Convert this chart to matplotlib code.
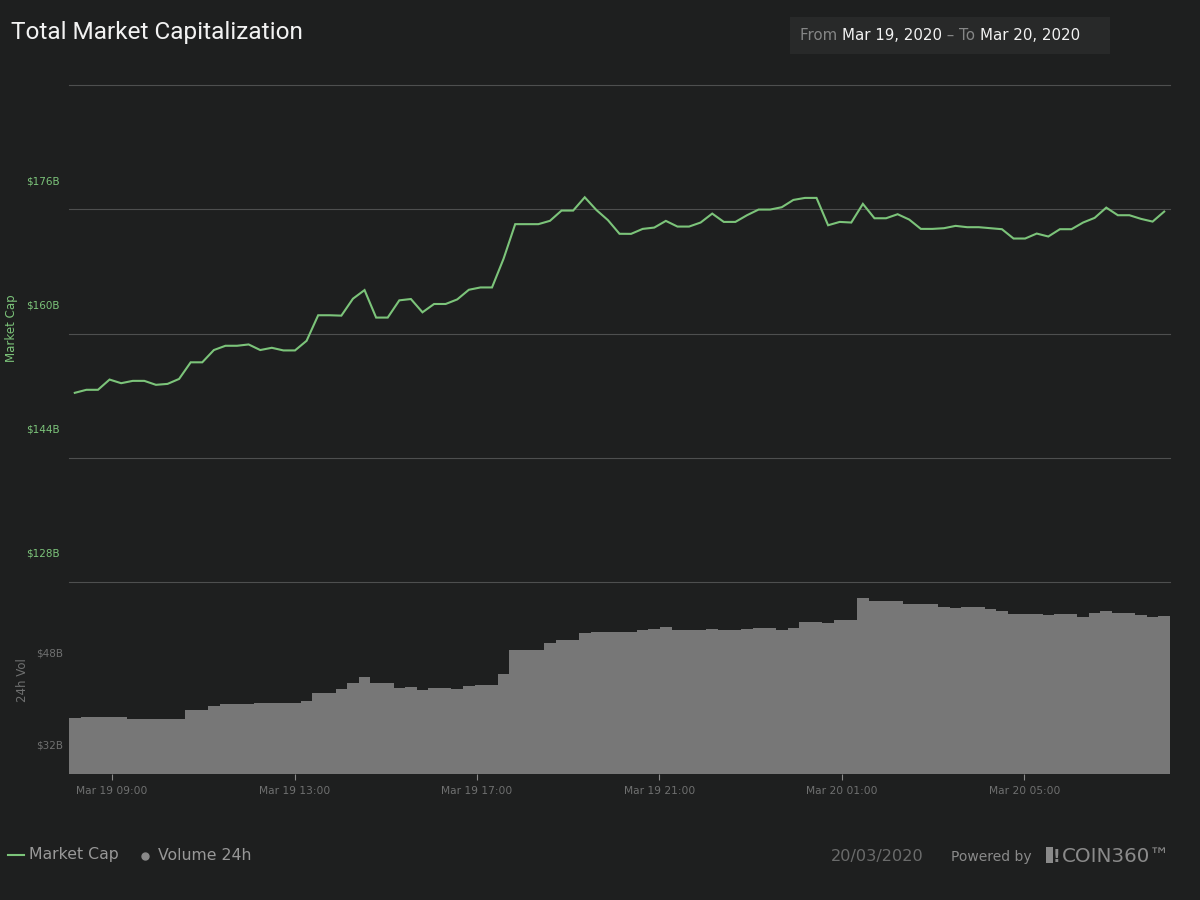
import matplotlib
matplotlib.use("Agg")
import matplotlib.dates as mdates
import matplotlib.pyplot as plt
import matplotlib.transforms as mtransforms
from matplotlib.lines import Line2D
from matplotlib.patches import Rectangle
from matplotlib.text import Annotation
import pandas as pd

# ==================== DATA ====================
# 95 snapshots, Mar 19 08:11 -> Mar 20 08:04
times = pd.date_range(start="2020-03-19 08:11", end="2020-03-20 08:04", periods=95)

# total market cap, $B
market_cap = [
    152.36, 152.75, 152.75, 154.07, 153.60, 153.90, 153.90, 153.39, 153.51, 154.15,
    156.29, 156.29, 157.87, 158.42, 158.42, 158.59, 157.87, 158.16, 157.82, 157.82,
    159.06, 162.35, 162.35, 162.30, 164.48, 165.59, 162.05, 162.05, 164.27, 164.44,
    162.73, 163.80, 163.80, 164.39, 165.63, 165.93, 165.93, 169.64, 174.08, 174.08,
    174.08, 174.51, 175.83, 175.83, 177.54, 175.91, 174.60, 172.84, 172.83, 173.47,
    173.64, 174.50, 173.77, 173.77, 174.29, 175.44, 174.37, 174.37, 175.23, 175.96,
    175.96, 176.26, 177.20, 177.46, 177.46, 173.94, 174.37, 174.29, 176.69, 174.84,
    174.84, 175.36, 174.67, 173.47, 173.47, 173.56, 173.86, 173.69, 173.69, 173.56,
    173.43, 172.23, 172.23, 172.87, 172.49, 173.43, 173.43, 174.29, 174.89, 176.21,
    175.23, 175.23, 174.76, 174.41, 175.70,
]

# 24h volume, $B
volume_24h = [
    41.74, 41.90, 41.90, 41.90, 41.90, 41.57, 41.57, 41.57, 41.57, 41.57,
    43.13, 43.13, 43.83, 44.17, 44.17, 44.17, 44.35, 44.35, 44.35, 44.35,
    44.70, 46.10, 46.10, 46.80, 47.80, 48.90, 47.80, 47.80, 46.96, 47.13,
    46.66, 46.96, 46.96, 46.80, 47.30, 47.48, 47.48, 49.40, 53.57, 53.57,
    53.57, 54.80, 55.30, 55.30, 56.50, 56.70, 56.70, 56.70, 56.70, 57.04,
    57.20, 57.57, 57.04, 57.04, 57.04, 57.20, 57.04, 57.04, 57.20, 57.40,
    57.40, 57.04, 57.40, 58.43, 58.43, 58.26, 58.78, 58.78, 62.60, 62.09,
    62.09, 62.09, 61.57, 61.57, 61.57, 61.04, 60.87, 61.04, 61.04, 60.70,
    60.35, 59.83, 59.83, 59.83, 59.65, 59.83, 59.83, 59.30, 60.00, 60.35,
    60.00, 60.00, 59.65, 59.30, 59.48,
]

cap_ticks = [128, 144, 160, 176, 192]
cap_tick_labels = ["$128B", "$144B", "$160B", "$176B", ""]
vol_ticks = [32, 48]
vol_tick_labels = ["$32B", "$48B"]

# ==================== STYLE ===================
bg = "#1e1f1f"
green = "#7cc47a"
grid_col = "#4e4f4f"
bar_col = "#777777"
grey_txt = "#6f7070"

fig = plt.figure(figsize=(12, 9), dpi=100)
fig.patch.set_facecolor(bg)

W, H = 1200, 900
left, right = 69 / W, 1170 / W
ax = fig.add_axes([left, 1 - 582 / H, right - left, (582 - 85) / H])
ax_vol = fig.add_axes([left, 1 - 774 / H, right - left, (774 - 582) / H], sharex=ax)

step = times[1] - times[0]
xlim = (times[0] - step / 2, times[-1] + step / 2)

# labels sit ~29px above their grid lines in the original
label_shift = mtransforms.ScaledTranslation(0, 29 / 100, fig.dpi_scale_trans)

# ==================== MARKET CAP ==============
ax.set_facecolor("none")
ax.plot(times, market_cap, color=green, lw=1.5, solid_joinstyle="miter")
ax.set_ylim(128, 192)
ax.set_xlim(xlim)
ax.set_yticks(cap_ticks)
ax.set_yticklabels(cap_tick_labels)
ax.grid(axis="y", color=grid_col, lw=0.8)
ax.grid(axis="x", visible=False)
for s in ax.spines.values():
    s.set_visible(False)
ax.tick_params(axis="y", length=0, pad=7, labelsize=7.5, labelcolor=green)
ax.tick_params(axis="x", bottom=False, labelbottom=False)
for lbl in ax.get_yticklabels():
    lbl.set_transform(lbl.get_transform() + label_shift)
for gl in ax.get_ygridlines():
    gl.set_clip_on(False)

# ==================== VOLUME ==================
ax_vol.set_facecolor("none")
ax_vol.bar(times, volume_24h, width=step, color=bar_col, linewidth=0, align="center")
ax_vol.set_ylim(32, 32 + 192 / 5.75)
ax_vol.set_yticks(vol_ticks)
ax_vol.set_yticklabels(vol_tick_labels)
for s in ax_vol.spines.values():
    s.set_visible(False)
ax_vol.tick_params(axis="y", length=0, pad=4, labelsize=7.5, labelcolor=grey_txt)
for lbl in ax_vol.get_yticklabels():
    lbl.set_transform(lbl.get_transform() + label_shift)

ax_vol.xaxis.set_major_locator(mdates.HourLocator(byhour=[1, 5, 9, 13, 17, 21]))
ax_vol.xaxis.set_major_formatter(mdates.DateFormatter("%b %d %H:%M"))
ax_vol.tick_params(axis="x", direction="out", length=4.5, width=0.8, color="#8a8a8a",
                   labelsize=7.7, labelcolor=grey_txt, pad=4)
ax_vol.set_xlim(xlim)

# axis titles
fig.text(11 / W, 1 - 328 / H, "Market Cap", rotation=90, ha="center", va="center",
         color=green, fontsize=8.5)
fig.text(23 / W, 1 - 680 / H, "24h Vol", rotation=90, ha="center", va="center",
         color=grey_txt, fontsize=8.5)

# ==================== HEADER ==================
fig.text(11 / W, 1 - 32.5 / H, "Total Market Capitalization", ha="left", va="center",
         color="#f2f2f2", fontsize=17.6, family="Roboto")

fig.add_artist(Rectangle((790 / W, 1 - 54 / H), 320 / W, 37 / H, transform=fig.transFigure,
                         facecolor="#282929", edgecolor="none"))
t1 = fig.text(800 / W, 1 - 35.5 / H, "From ", ha="left", va="center", color="#858686", fontsize=10.8)
t2 = fig.add_artist(Annotation("Mar 19, 2020", xy=(1, 0.5), xycoords=t1, ha="left", va="center",
                               color="#f2f2f2", fontsize=10.8))
t3 = fig.add_artist(Annotation(" \u2013 To ", xy=(1, 0.5), xycoords=t2, ha="left", va="center",
                               color="#858686", fontsize=10.8))
fig.add_artist(Annotation("Mar 20, 2020", xy=(1, 0.5), xycoords=t3, ha="left", va="center",
                          color="#f2f2f2", fontsize=10.8))

# ==================== FOOTER ==================
ly = 1 - 855 / H
fig.add_artist(Line2D([8 / W, 24 / W], [ly, ly], transform=fig.transFigure, color=green, lw=1.5))
fig.text(29 / W, ly, "Market Cap", ha="left", va="center", color="#989898", fontsize=11.3)
fig.add_artist(Line2D([145 / W], [ly - 1 / H], transform=fig.transFigure, marker="o",
                      markersize=5, color="#8a8a8a", linestyle="none"))
fig.text(158 / W, ly, "Volume 24h", ha="left", va="center", color="#989898", fontsize=11.3)

fy = 1 - 857 / H
fig.text(831 / W, fy, "20/03/2020", ha="left", va="center", color="#6a6b6b", fontsize=11.6)
fig.text(951 / W, fy, "Powered by", ha="left", va="center", color="#8a8a8a", fontsize=10)
fig.add_artist(Rectangle((1046 / W, 1 - 863 / H), 7 / W, 16 / H, transform=fig.transFigure,
                         facecolor="#8a8a8a", edgecolor="none"))
fig.text(1053 / W, fy, "!", ha="left", va="center", color="#8a8a8a", fontsize=12, fontweight="bold")
fig.text(1062 / W, fy, "COIN360\u2122", ha="left", va="center", color="#8a8a8a", fontsize=14.3)

fig.savefig("out.png", dpi=100, facecolor=bg)
